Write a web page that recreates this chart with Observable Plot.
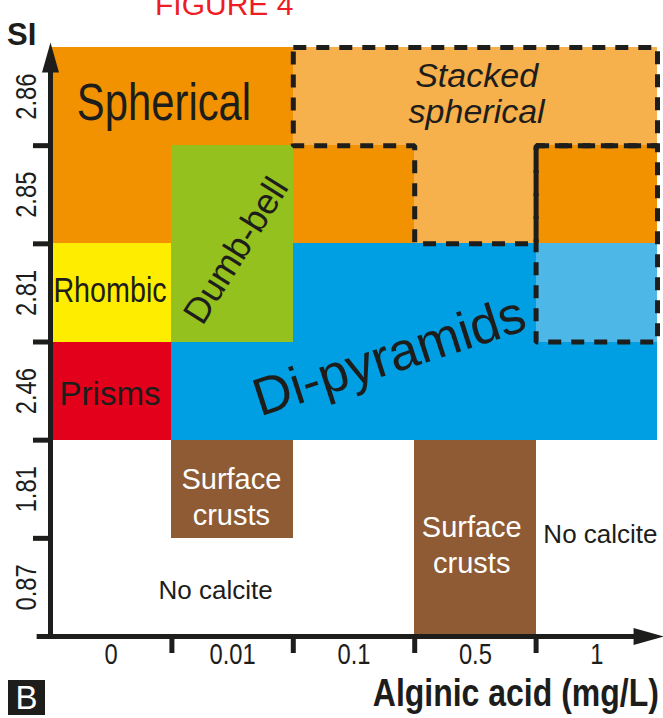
<!DOCTYPE html>
<html><head><meta charset="utf-8">
<script src="https://cdn.jsdelivr.net/npm/d3@7"></script>
<script src="https://cdn.jsdelivr.net/npm/@observablehq/plot@0.6"></script>
<style>
html,body{margin:0;padding:0;background:#fff;overflow:hidden}
#wrap{position:relative;width:663px;height:718px}
#chart svg{display:block}
.ov{position:absolute;white-space:nowrap;line-height:1}
</style></head><body>
<div id="wrap">
<div id="chart"></div>
<div class="ov" style="left:155px;top:-12px;font:30px 'Liberation Sans',Arial,sans-serif;color:#ee1c25">FIGURE 4</div>
<div class="ov" style="left:7px;top:17px;font:bold 31px 'Liberation Sans',Arial,sans-serif;color:#1d1d1b">SI</div>
<div class="ov" style="left:8px;top:680px;width:37px;height:35px;background:#1d1d1b;color:#fff;font:33px 'Liberation Sans',Arial,sans-serif;text-align:center;line-height:35px">B</div>
<div class="ov" style="right:4px;top:671px;font:bold 39px 'Liberation Sans',Arial,sans-serif;color:#1d1d1b;transform:scaleX(0.82);transform-origin:100% 50%">Alginic acid (mg/L)</div>
</div>
<script>
// ---- data ----
const xCats = ["0", "0.01", "0.1", "0.5", "1"];               // Alginic acid (mg/L)
const yCats = ["0.87", "1.81", "2.46", "2.81", "2.85", "2.86"]; // SI, bottom to top
const phases = ["Spherical", "Stacked spherical", "Dumb-bell", "Rhombic", "Prisms", "Di-pyramids", "Di-pyramids (mixed)", "Surface crusts"];
const phaseColors = ["#f39200", "#f6b04c", "#95c11f", "#ffed00", "#e2001a", "#009fe3", "#4db8e8", "#8e5b34"];
// phase observed for each alginic acid level, one row per SI level (null = no calcite)
const row087 = [null, null, null, "Surface crusts", null];
const row181 = [null, "Surface crusts", null, "Surface crusts", null];
const row246 = ["Prisms", "Di-pyramids", "Di-pyramids", "Di-pyramids", "Di-pyramids"];
const row281 = ["Rhombic", "Dumb-bell", "Di-pyramids", "Di-pyramids", "Di-pyramids (mixed)"];
const row285 = ["Spherical", "Dumb-bell", "Spherical", "Stacked spherical", "Spherical"];
const row286 = ["Spherical", "Spherical", "Stacked spherical", "Stacked spherical", "Stacked spherical"];
// dashed outlines, as grid corners [x boundary index, y boundary index]
const stackedOutline = [[2,6],[5,6],[5,5],[4,5],[4,4],[3,4],[3,5],[2,5],[2,6]];
const mixedOutline = [[4,5],[5,5],[5,3],[4,3],[4,5]];
// region labels, anchored in grid units
const regionLabels = [
  {text: "Spherical", x: 0.935, y: 5.43},
  {text: "Stacked\nspherical", x: 3.51, y: 5.53},
  {text: "Dumb-bell", x: 1.53, y: 3.93},
  {text: "Rhombic", x: 0.49, y: 3.52},
  {text: "Prisms", x: 0.49, y: 2.47},
  {text: "Di-pyramids", x: 2.79, y: 2.85},
  {text: "Surface\ncrusts", x: 1.49, y: 1.44},
  {text: "Surface\ncrusts", x: 3.47, y: 0.95},
  {text: "No calcite", x: 1.36, y: 0.47},
  {text: "No calcite", x: 4.53, y: 1.04}
];

// ---- build ----
const rows = [row087, row181, row246, row281, row285, row286];
const cells = rows.flatMap((r, yi) => r.map((p, xi) => ({xi, yi, x: xCats[xi], y: yCats[yi], phase: p}))).filter(d => d.phase);
const ink = "#1d1d1b";
const REG = "'Liberation Sans', Arial, sans-serif";
const NAR = "Liberation Sans, Arial, sans-serif"; // condensed below
const pick = (...t) => regionLabels.filter(d => t.includes(d.text));
const arrowHead = {draw(ctx) { ctx.moveTo(0, 0); ctx.lineTo(-8.5, 30); ctx.lineTo(8.5, 30); ctx.closePath(); }};
const outline = (pts) => Plot.line(pts, {x: d => d[0], y: d => d[1], stroke: ink, strokeWidth: 5, strokeDasharray: "13,10", strokeLinejoin: "miter", strokeLinecap: "butt"});

const chart = Plot.plot({
  width: 663, height: 718,
  marginLeft: 50, marginRight: 6, marginTop: 47, marginBottom: 82,
  x: {domain: [0, 5]},
  y: {domain: [0, 6]},
  color: {domain: phases, range: phaseColors},
  style: {background: "transparent", overflow: "visible"},
  marks: [
    Plot.rect(cells, {x1: "xi", x2: d => d.xi + 1, y1: "yi", y2: d => d.yi + 1, fill: "phase", shapeRendering: "crispEdges"}),
    outline(stackedOutline),
    outline(mixedOutline),
    Plot.text(pick("Spherical"), {x: "x", y: "y", text: "text", fontSize: 51, fontFamily: NAR, fill: ink}),
    Plot.text(pick("Stacked\nspherical"), {x: "x", y: "y", text: "text", fontSize: 34, fontStyle: "italic", lineHeight: 1.04, fontFamily: REG, fill: ink}),
    Plot.text(pick("Dumb-bell"), {x: "x", y: "y", text: "text", fontSize: 36, rotate: -58, fontFamily: REG, fill: ink}),
    Plot.text(pick("Rhombic"), {x: "x", y: "y", text: "text", fontSize: 35, fontFamily: NAR, fill: ink}),
    Plot.text(pick("Prisms"), {x: "x", y: "y", text: "text", fontSize: 33, fontFamily: REG, fill: ink}),
    Plot.text(pick("Di-pyramids"), {x: "x", y: "y", text: "text", fontSize: 53, rotate: -18, fontFamily: REG, fill: ink}),
    Plot.text(pick("Surface\ncrusts"), {x: "x", y: "y", text: "text", fontSize: 29, lineHeight: 1.24, fontFamily: REG, fill: "#ffffff"}),
    Plot.text(pick("No calcite"), {x: "x", y: "y", text: "text", fontSize: 26, fontFamily: REG, fill: ink}),
    // axes
    Plot.axisX({ticks: [1, 2, 3, 4], tickSize: 17, tickFormat: () => "", stroke: ink, strokeWidth: 5, label: null}),
    Plot.axisY({ticks: [1, 2, 3, 4, 5], tickSize: 17, tickFormat: () => "", stroke: ink, strokeWidth: 5, label: null}),
    Plot.ruleY([0], {x1: -0.11, x2: 4.9, stroke: ink, strokeWidth: 5}),
    Plot.ruleX([0], {y1: 0, y2: 5.9, stroke: ink, strokeWidth: 5}),
    Plot.dot([[5.05, 0]], {x: d => d[0], y: d => d[1], symbol: arrowHead, rotate: 90, fill: ink, stroke: "none"}),
    Plot.dot([[0, 6.05]], {x: d => d[0], y: d => d[1], symbol: arrowHead, fill: ink, stroke: "none"}),
    Plot.text(xCats, {x: (d, i) => i + 0.5, y: () => 0, dy: 18, text: d => d, fontSize: 29, fontFamily: NAR, fill: ink}),
    Plot.text(yCats, {x: () => 0, y: (d, i) => i + 0.5, dx: -24, rotate: -90, text: d => d, fontSize: 29, fontFamily: NAR, fill: ink})
  ]
});
document.getElementById("chart").appendChild(chart);

// narrow face (Liberation Sans Narrow is not installed): condense the glyphs horizontally
d3.select(chart).selectAll("g").filter(function () { return this.getAttribute("font-family") === NAR; })
  .selectAll("text").each(function () {
    const t = this.getAttribute("transform");
    if (t) {
      this.setAttribute("transform", t + " scale(0.82,1)");
    } else {
      const x = +this.getAttribute("x") || 0, y = +this.getAttribute("y") || 0;
      this.removeAttribute("x"); this.removeAttribute("y");
      this.setAttribute("transform", `translate(${x},${y}) scale(0.82,1)`);
    }
  });
</script>
</body></html>
